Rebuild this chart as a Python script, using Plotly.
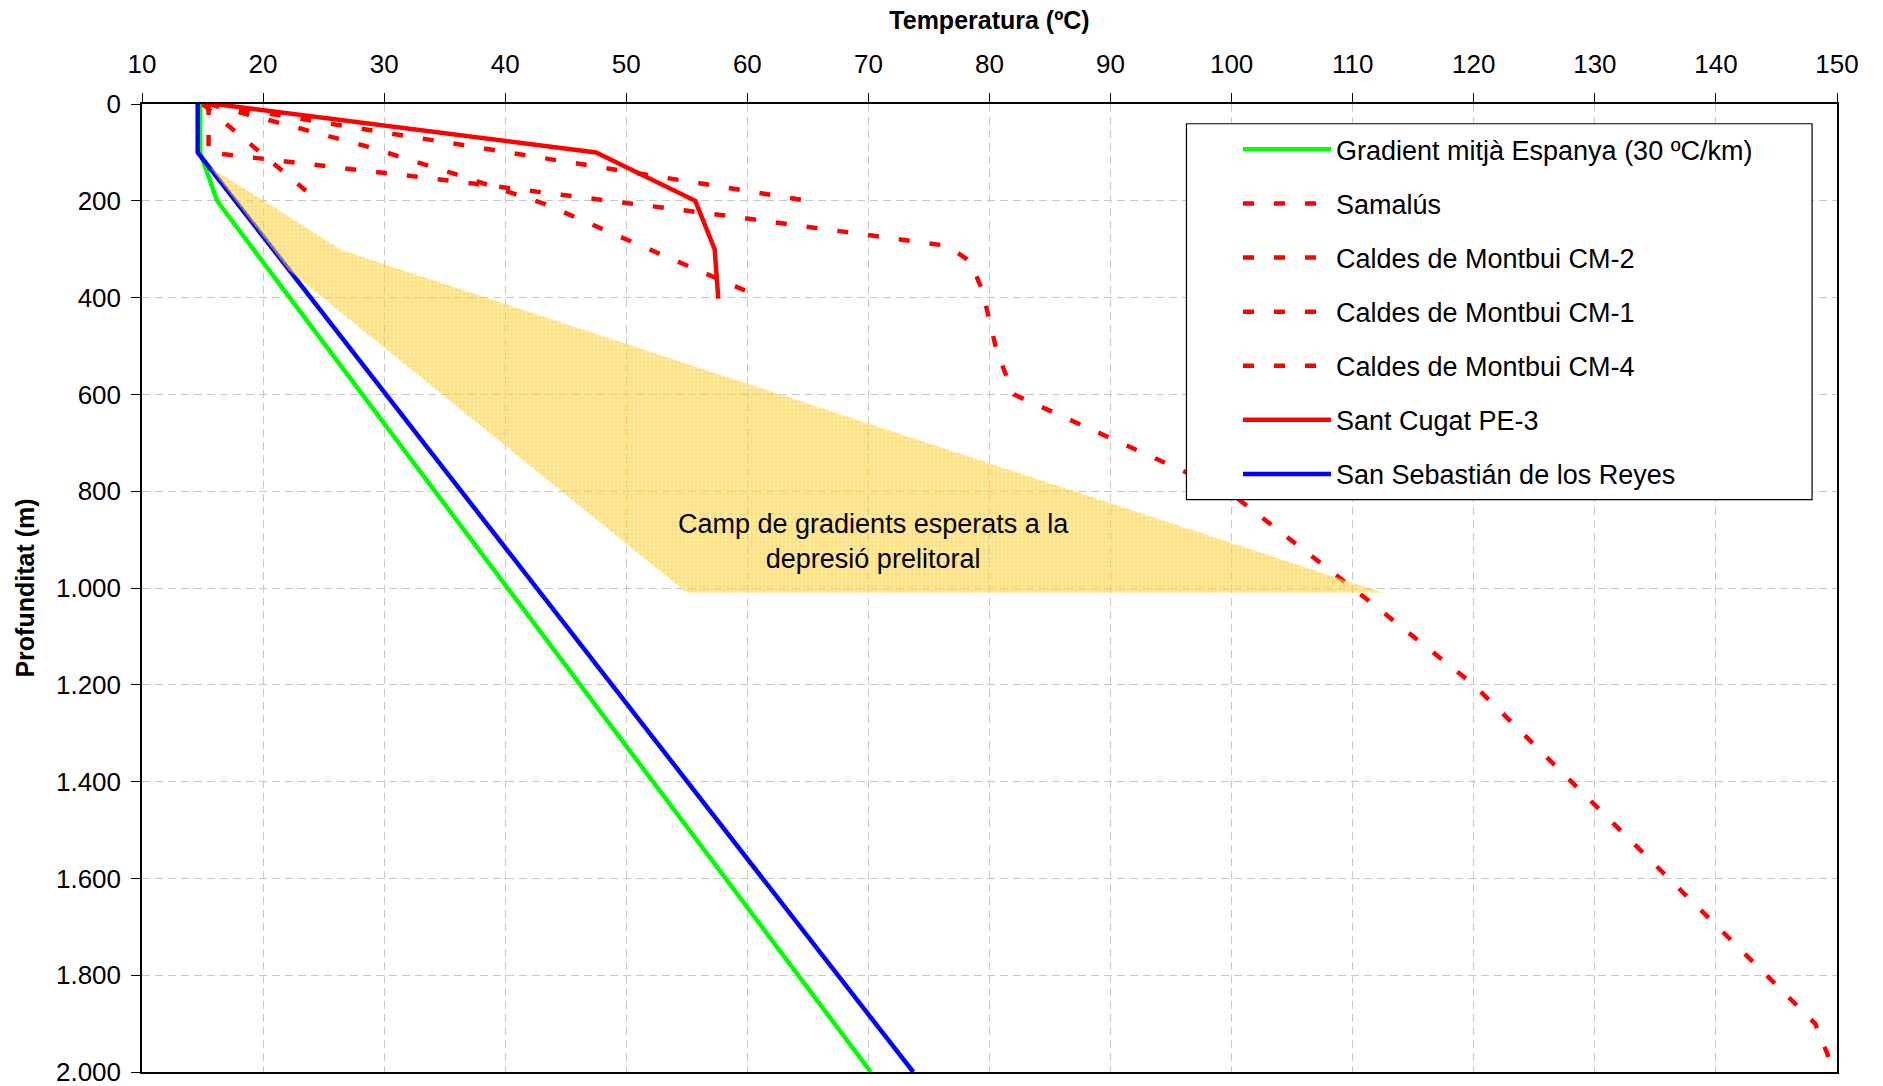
import plotly.graph_objects as go

FONT = "Liberation Sans, Arial, sans-serif"
RED = "#FF0000"
GREEN = "#00FF00"
BLUE = "#0000FF"
DASH = "11px,20px"

# temperature (ºC) vs depth (m)
esp_temp = [14.8, 14.8, 16.2, 70.2]
esp_depth = [0, 100, 200, 2000]

samalus_temp = [15.5, 65.0]
samalus_depth = [0, 200]

cm2_temp = [15.5, 15.5, 36.0, 58.0, 76.5, 78.4, 79.4, 80.6, 82.0, 99.7, 110.0, 120.0, 148.2, 149.4]
cm2_depth = [0, 100, 160, 230, 293, 325, 384, 511, 600, 800, 1000, 1200, 1900, 1975]

cm1_temp = [15.5, 18.4, 23.5, 28.5, 35.9, 43.3, 50.4, 57.7, 60.7]
cm1_depth = [0, 19, 52, 87, 145, 207, 284, 362, 395]

cm4_temp = [15.0, 24.3]
cm4_depth = [0, 195]

cugat_temp = [16.0, 47.5, 55.7, 57.3, 57.6]
cugat_depth = [0, 100, 200, 300, 402]

sebastian_temp = [14.6, 14.6, 73.7]
sebastian_depth = [0, 100, 2000]

# expected gradient field (shaded area)
camp_temp = [15.6, 26.5, 112.5, 55.0, 22.1]
camp_depth = [130, 302, 1010, 1010, 343]

series = [
    ("Gradient mitjà Espanya (30 ºC/km)", esp_temp, esp_depth, GREEN, "solid"),
    ("Samalús", samalus_temp, samalus_depth, RED, DASH),
    ("Caldes de Montbui CM-2", cm2_temp, cm2_depth, RED, DASH),
    ("Caldes de Montbui CM-1", cm1_temp, cm1_depth, RED, DASH),
    ("Caldes de Montbui CM-4", cm4_temp, cm4_depth, RED, DASH),
    ("Sant Cugat PE-3", cugat_temp, cugat_depth, RED, "solid"),
    ("San Sebastián de los Reyes", sebastian_temp, sebastian_depth, BLUE, "solid"),
]

fig = go.Figure()

for i, (name, t, d, color, dash) in enumerate(series):
    fig.add_trace(go.Scatter(
        x=t, y=d, mode="lines", name=name, legendgroup=f"g{i}",
        line=dict(color=color, width=4.5, dash=dash),
    ))

fig.add_trace(go.Scatter(
    x=camp_temp, y=camp_depth, mode="lines", fill="toself",
    line=dict(width=0), showlegend=False, hoverinfo="skip",
    fillpattern=dict(shape="+", size=4, solidity=0.25, fgcolor="#FFC000",
                     fgopacity=0.7, bgcolor="rgba(255,215,80,0.45)"),
))

fig.add_annotation(
    x=70.4, y=903, text="Camp de gradients esperats a la<br>depresió prelitoral",
    showarrow=False, font=dict(size=27, color="black", family=FONT),
)

# legend frame (white box hides the lines behind it)
fig.add_shape(
    type="rect", xref="paper", yref="paper",
    x0=0.6162, x1=0.9853, y0=0.5913, y1=0.9796,
    fillcolor="white", line=dict(color="black", width=1.2), layer="above",
)

fig.update_layout(
    width=1883, height=1086,
    margin=dict(l=142, r=46, t=104, b=14),
    paper_bgcolor="white", plot_bgcolor="white",
    font=dict(family=FONT, size=26, color="black"),
    separators=",.",
    showlegend=True,
    legend=dict(
        x=0.6466, y=0.978, xanchor="left", yanchor="top",
        bgcolor="rgba(0,0,0,0)", borderwidth=0,
        font=dict(size=27, family=FONT), itemwidth=88, tracegroupgap=16,
    ),
    xaxis=dict(
        side="top", range=[10, 150], dtick=10, tick0=10, automargin=False,
        showline=True, linecolor="black", linewidth=1.5, mirror=True,
        ticks="outside", ticklen=9, tickcolor="black",
        showgrid=True, gridcolor="#C8C8C8", griddash="8px,5px", gridwidth=1,
        zeroline=False, ticklabelstandoff=10,
        title=dict(text="Temperatura (ºC)", font=dict(size=25, weight="bold"), standoff=12),
    ),
    yaxis=dict(
        range=[2000, 0], dtick=200, tick0=0, tickformat=",d", automargin=False,
        showline=True, linecolor="black", linewidth=1.5, mirror=True,
        ticks="outside", ticklen=9, tickcolor="black",
        showgrid=True, gridcolor="#C8C8C8", griddash="8px,5px", gridwidth=1,
        zeroline=False, ticklabelstandoff=5, ticklabeloverflow="allow",
        title=dict(text="Profunditat (m)", font=dict(size=25, weight="bold"), standoff=14),
    ),
)

# drop the default 8px page margin so the figure fills the window exactly
fig.write_html(
    "out.html",
    config={"displayModeBar": False},
    post_script="document.body.style.margin = '0';",
)
